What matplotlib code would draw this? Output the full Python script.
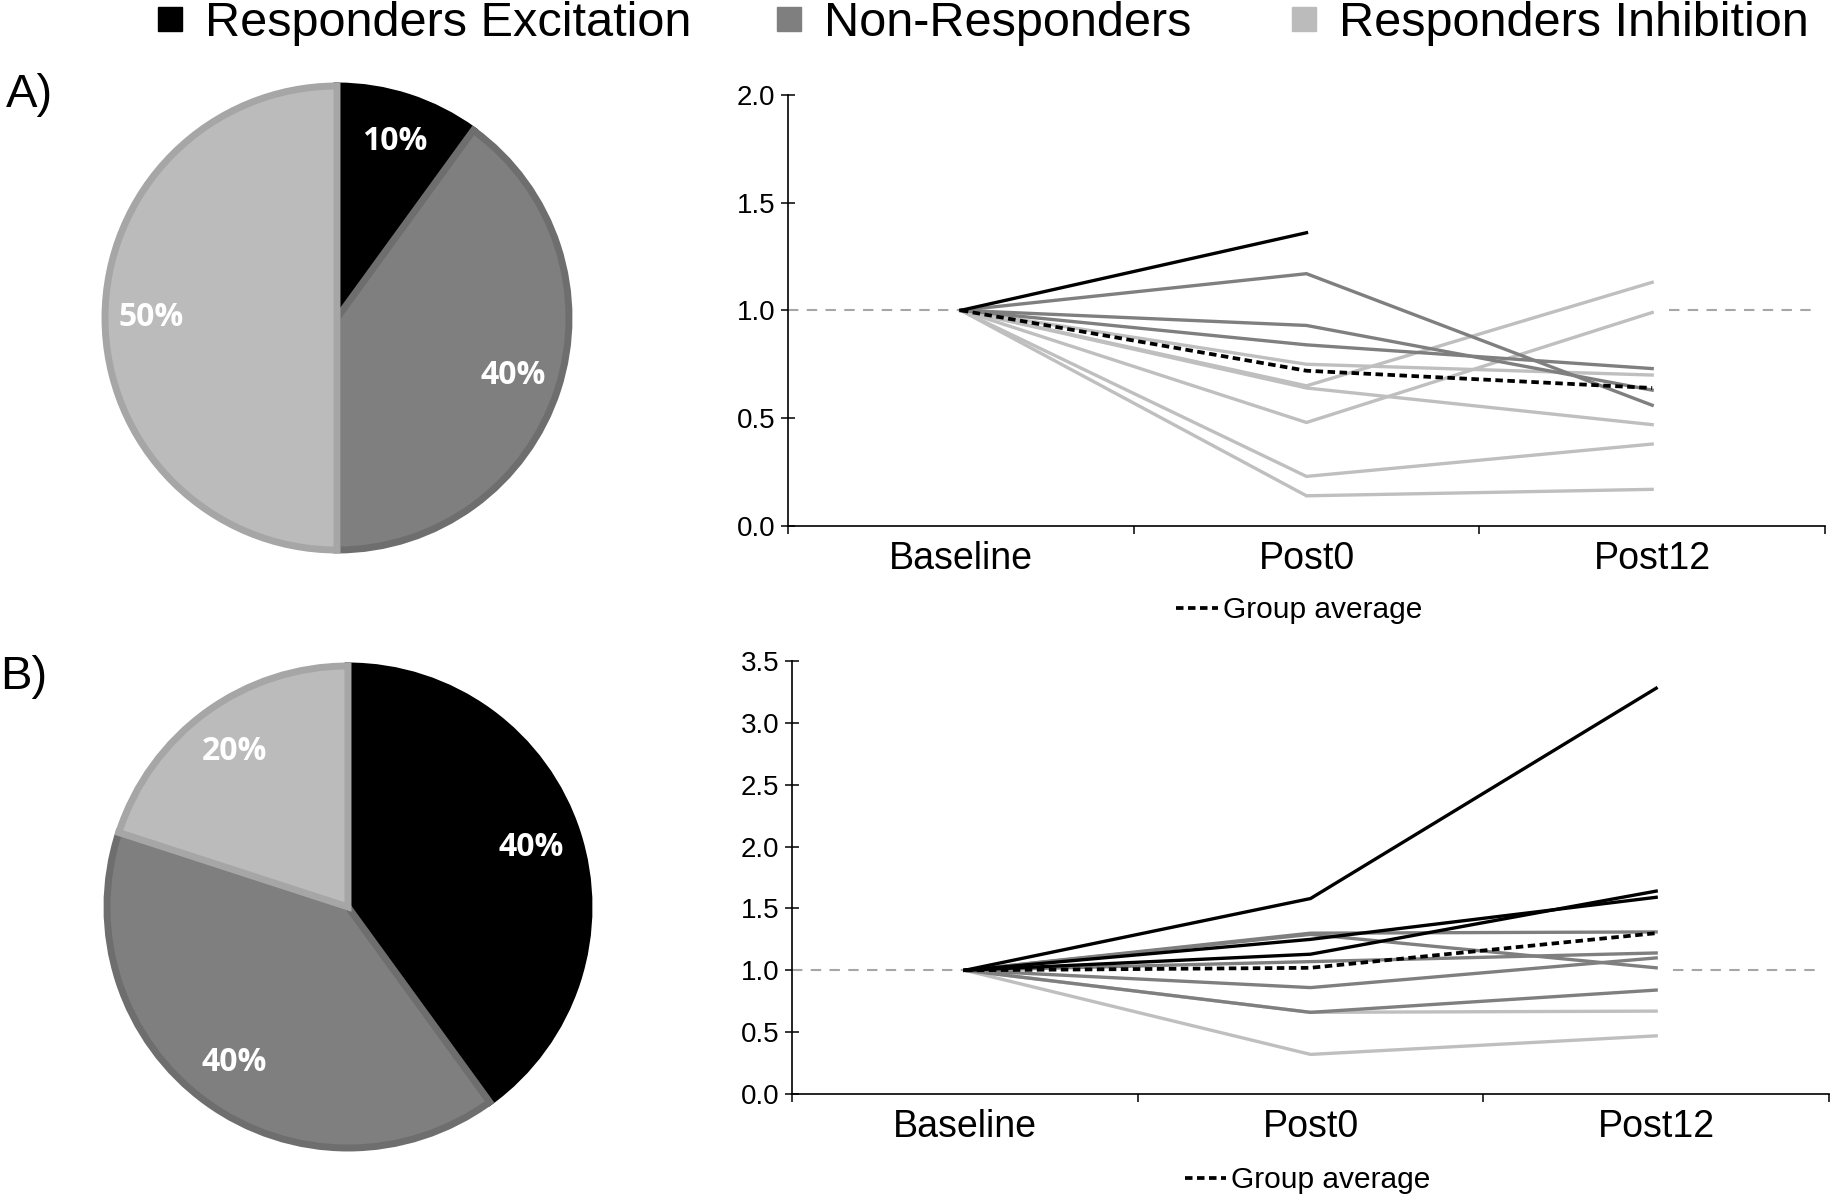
import numpy as np
import matplotlib
matplotlib.use("Agg")
import matplotlib.pyplot as plt
from matplotlib.lines import Line2D

plt.rcParams['font.family'] = ['Liberation Sans', 'DejaVu Sans']

# categories
groups = ['Responders Excitation', 'Non-Responders', 'Responders Inhibition']
timepoints = ['Baseline', 'Post0', 'Post12']

# pie shares (%)
pie_a = [10, 40, 50]
pie_b = [40, 40, 20]

nan = np.nan
# panel A, one row per subject (Baseline, Post0, Post12)
a_excit = [[1.0, 1.36, nan]]
a_nonresp = [[1.0, 1.17, 0.56],
             [1.0, 0.93, 0.63],
             [1.0, 0.84, 0.73]]
a_inhib = [[1.0, 0.75, 0.70],
           [1.0, 0.65, 1.13],
           [1.0, 0.64, 0.47],
           [1.0, 0.48, 0.99],
           [1.0, 0.23, 0.38],
           [1.0, 0.14, 0.17]]
a_avg = [1.0, 0.72, 0.64]

# panel B
b_excit = [[1.0, 1.58, 3.28],
           [1.0, 1.25, 1.59],
           [1.0, 1.13, 1.64]]
b_nonresp = [[1.0, 1.30, 1.31],
             [1.0, 1.29, 1.02],
             [1.0, 1.07, 1.14],
             [1.0, 0.86, 1.10],
             [1.0, 0.66, 0.84]]
b_inhib = [[1.0, 0.66, 0.67],
           [1.0, 0.32, 0.47]]
b_avg = [1.0, 1.02, 1.30]

ref_level = 1.0

fill_cols = ['#000000', '#7f7f7f', '#bbbbbb']
edge_cols = ['#000000', '#6e6e6e', '#a6a6a6']
line_cols = ['#000000', '#7f7f7f', '#bfbfbf']

W, H = 1836, 1200
fig = plt.figure(figsize=(W / 100, H / 100), dpi=100)


def draw_pie(cx, cy, r, shares):
    lim = 1.06
    half = r * lim
    ax = fig.add_axes([(cx - half) / W, 1 - (cy + half) / H, 2 * half / W, 2 * half / H])
    wedges, texts, autotexts = ax.pie(
        shares, colors=fill_cols, startangle=90, counterclock=False,
        autopct='%d%%', pctdistance=0.8, radius=1,
        wedgeprops=dict(linewidth=5),
        textprops=dict(color='white', fontsize=23, fontweight='bold',
                       family=['Open Sans', 'DejaVu Sans']))
    for w, ec in zip(wedges, edge_cols):
        w.set_edgecolor(ec)
        w.set_joinstyle('miter')
    ax.set_xlim(-lim, lim)
    ax.set_ylim(-lim, lim)
    ax.set_aspect('auto')
    ax.axis('off')
    return ax


def draw_lines(left, right, top, bottom, excit, nonresp, inhib, avg, ymax, leg_xy):
    ax = fig.add_axes([left / W, 1 - bottom / H, (right - left) / W, (bottom - top) / H])
    x = np.arange(len(timepoints))
    ax.hlines(ref_level, -0.5, 0, colors='#a6a6a6', linestyles=(0, (5, 4)), lw=1.5)
    ax.hlines(ref_level, 2.05, 2.48, colors='#a6a6a6', linestyles=(0, (5, 4)), lw=1.5)
    for rows, col in [(inhib, line_cols[2]), (nonresp, line_cols[1]), (excit, line_cols[0])]:
        for row in rows:
            ax.plot(x, row, color=col, lw=2.4, solid_joinstyle='miter')
    ax.plot(x, avg, color='black', lw=2.7, linestyle=(0, (2.0, 1.2)))

    ax.set_xlim(-0.5, 2.5)
    ax.set_ylim(0, ymax)
    yt = np.arange(0, ymax + 0.01, 0.5)
    ax.set_yticks(yt)
    ax.set_yticklabels(['%.1f' % v for v in yt])
    ax.set_xticks(x)
    ax.set_xticklabels(timepoints)
    ax.set_xticks([-0.5, 0.5, 1.5, 2.5], minor=True)
    ax.tick_params(axis='x', which='major', length=0, labelsize=27, pad=11)
    ax.tick_params(axis='x', which='minor', length=6, width=1.1, direction='out')
    ax.tick_params(axis='y', length=10, width=1.1, direction='inout', labelsize=20, pad=4)
    for s in ['top', 'right']:
        ax.spines[s].set_visible(False)
    for s in ['left', 'bottom']:
        ax.spines[s].set_linewidth(1.2)
    ax.legend([Line2D([0], [0], color='black', lw=2.7, linestyle=(0, (2.0, 1.2)))],
              ['Group average'], loc='center', bbox_to_anchor=leg_xy,
              frameon=False, fontsize=21.5, handlelength=1.4, handletextpad=0.15)
    return ax


draw_pie(337, 318, 232, pie_a)
draw_pie(348, 907, 241, pie_b)

draw_lines(788, 1825, 94.7, 526, a_excit, a_nonresp, a_inhib, a_avg, 2.0, (0.493, -0.195))
draw_lines(792, 1829, 661, 1094, b_excit, b_nonresp, b_inhib, b_avg, 3.5, (0.497, -0.199))

fig.text(0.003, 1 - 95 / H, 'A)', fontsize=34, ha='left', va='center')
fig.text(0.0, 1 - 677 / H, 'B)', fontsize=34, ha='left', va='center')

# one legend entry per group, placed at its own left edge like the original
entry_left = [153, 772, 1287]
for c, name, xl in zip(fill_cols, groups, entry_left):
    h = Line2D([0], [0], marker='s', color='none', markerfacecolor=c,
               markeredgecolor=c, markersize=17)
    fig.legend([h], [name], loc='center left', bbox_to_anchor=(xl / W, 1 - 24 / H),
               frameon=False, fontsize=35, handlelength=0.7, handletextpad=0.36,
               borderpad=0, borderaxespad=0)

fig.savefig('out.png', dpi=100)
